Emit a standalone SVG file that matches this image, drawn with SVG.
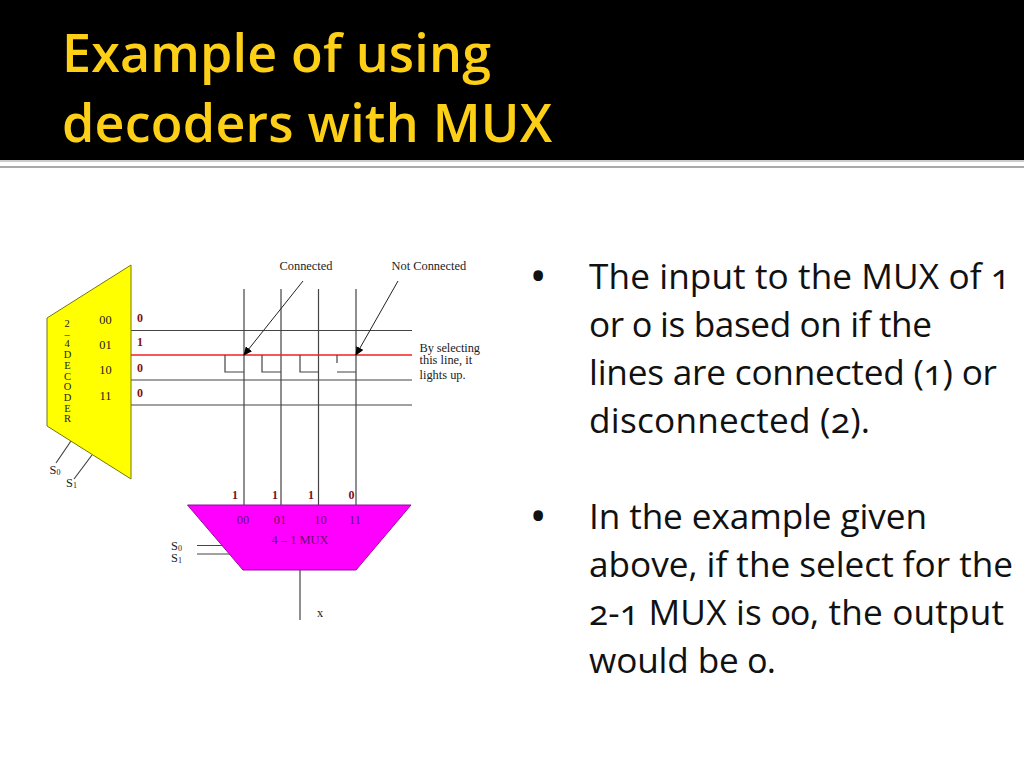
<svg xmlns="http://www.w3.org/2000/svg" width="1024" height="768" viewBox="0 0 1024 768">
<style>
.title{font-family:"Open Sans","Noto Sans",sans-serif;font-weight:600;font-size:52px;fill:#fdd017}
.body{font-family:"Open Sans","Noto Sans",sans-serif;font-size:35.2px;fill:#111;font-feature-settings:"onum";font-variant-numeric:oldstyle-nums}
.bul{font-family:"Open Sans","Noto Sans",sans-serif;font-size:46px;fill:#111}
.t{font-family:"Liberation Serif",serif;font-size:12.4px;fill:#222}
.n{font-family:"Liberation Serif",serif;font-size:12px;font-weight:700;fill:#7a1020}
.w{fill:none;stroke:#444;stroke-width:1.2}
.k{fill:none;stroke:#222;stroke-width:1}
.r{fill:none;stroke:#f02020;stroke-width:1.6}
</style>
<defs>
<marker id="ah" markerUnits="userSpaceOnUse" markerWidth="9" markerHeight="8" refX="8" refY="4" orient="auto"><path d="M0,0 L9,4 L0,8 Z" fill="#000"/></marker>
</defs>
<rect width="1024" height="768" fill="#fff"/>
<g id="header">
<rect width="1024" height="160" fill="#000"/>
<rect y="160" width="1024" height="2" fill="#ccc"/>
<rect y="166" width="1024" height="2" fill="#aaa"/>
<text class="title" x="62" y="72" textLength="429">Example of using</text>
<text class="title" x="62" y="142" textLength="490">decoders with MUX</text>
</g>
<g id="connectors">
<path class="w" d="M131,330.5H412M131,380H412M131,405H412"/>
<path class="w" d="M244,289V505M281,289V505M318.5,289V505M356,289V505"/>
<path class="r" d="M131,355H412"/>
<path class="w" d="M225,355V372H244M262,355V372H281M300,355V372H318.5M337,355V363M337,372H356"/>
<path class="k" d="M303,281L244,355" marker-end="url(#ah)"/>
<path class="k" d="M398,281L356,355" marker-end="url(#ah)"/>
<path class="w" d="M71,441L56,463M92,455L74,479M197,545.5H223M197,554H231M300,570V620"/>
</g>
<g id="decoder">
<path d="M47,318L131,265V479L47,426Z" fill="#ff0" stroke="#77770a" stroke-width="1"/>
<g class="t" text-anchor="middle" style="font-size:10.500px">
<text x="67" y="327">2</text><text x="67" y="338">–</text><text x="67" y="347">4</text><text x="67.500" y="358">D</text><text x="67.500" y="369">E</text><text x="67.500" y="380">C</text><text x="67.500" y="390">O</text><text x="67.500" y="401">D</text><text x="67.500" y="412">E</text><text x="67.500" y="422">R</text>
</g>
<g class="t" text-anchor="middle">
<text x="105.500" y="324">00</text><text x="105.500" y="349">01</text><text x="105.500" y="374">10</text><text x="105.500" y="400">11</text>
</g>
<g class="n" text-anchor="middle">
<text x="140" y="322">0</text><text x="140" y="346">1</text><text x="140" y="372">0</text><text x="140" y="397">0</text>
</g>
<text class="t" x="49.500" y="474">S<tspan font-size="8" dy="1">0</tspan></text>
<text class="t" x="66" y="487">S<tspan font-size="8" dy="1">1</tspan></text>
</g>
<g id="mux">
<path d="M187.500,505H411L356,570H243Z" fill="#f0f" stroke="#90109a" stroke-width="1"/>
<g class="t" text-anchor="middle" style="fill:#6a0a70">
<text x="243" y="524">00</text><text x="280" y="524">01</text><text x="320.500" y="524">10</text><text x="355" y="524">11</text>
<text x="300" y="544">4 – 1 MUX</text>
</g>
<g class="n" text-anchor="middle">
<text x="235" y="499">1</text><text x="275" y="499">1</text><text x="311" y="499">1</text><text x="351.500" y="499">0</text>
</g>
<text class="t" x="171" y="550">S<tspan font-size="8" dy="1">0</tspan></text>
<text class="t" x="171" y="562">S<tspan font-size="8" dy="1">1</tspan></text>
<text class="t" x="317" y="617">x</text>
</g>
<g id="labels">
<text class="t" x="279.500" y="270">Connected</text>
<text class="t" x="391.500" y="270">Not Connected</text>
<text class="t" x="419.500" y="352" textLength="60.500">By selecting</text>
<text class="t" x="419.500" y="364">this line, it</text>
<text class="t" x="419.500" y="379">lights up.</text>
</g>
<g id="bullets">
<text class="bul" x="529.500" y="292">•</text>
<text class="body" x="589" y="289" textLength="421">The input to the MUX of 1</text>
<text class="body" x="589" y="337" textLength="343">or 0 is based on if the</text>
<text class="body" x="589" y="385" textLength="408">lines are connected (1) or</text>
<text class="body" x="589" y="433" textLength="281">disconnected (2).</text>
<text class="bul" x="529.500" y="532">•</text>
<text class="body" x="589" y="529" textLength="338">In the example given</text>
<text class="body" x="589" y="577" textLength="424">above, if the select for the</text>
<text class="body" x="589" y="625" textLength="415">2-1 MUX is 00, the output</text>
<text class="body" x="589" y="673" textLength="187">would be 0.</text>
</g>
</svg>
